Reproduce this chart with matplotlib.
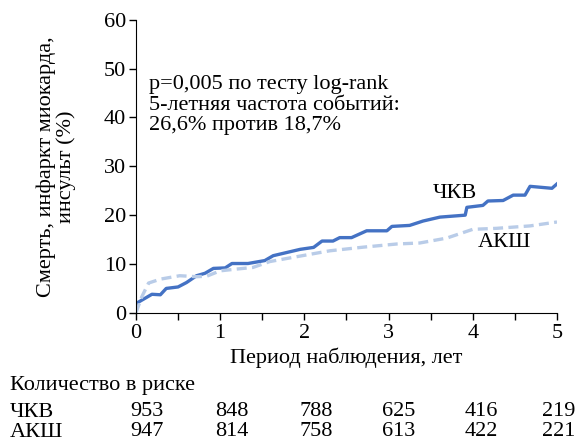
import matplotlib
matplotlib.use("Agg")
import matplotlib.pyplot as plt

plt.rcParams["font.family"] = ["Liberation Serif", "DejaVu Serif"]

# ---- данные ----
pci_t = [0.0, 0.01, 0.09, 0.19, 0.29, 0.36, 0.50, 0.60, 0.72, 0.82, 0.92, 1.06,
         1.14, 1.33, 1.53, 1.63, 1.79, 1.95, 2.11, 2.21, 2.34, 2.42, 2.56, 2.74,
         2.98, 3.04, 3.25, 3.41, 3.61, 3.91, 3.93, 4.12, 4.18, 4.36, 4.48, 4.62,
         4.68, 4.94, 5.0]
pci_y = [0.6, 2.0, 2.8, 3.8, 3.7, 5.0, 5.3, 6.2, 7.6, 8.1, 9.1, 9.2,
         10.1, 10.1, 10.7, 11.7, 12.35, 13.0, 13.4, 14.7, 14.7, 15.4, 15.4, 16.8,
         16.8, 17.7, 17.9, 18.8, 19.6, 20.0, 21.6, 22.0, 22.9, 23.0, 24.1, 24.1,
         25.9, 25.5, 26.4]

cabg_t = [0.0, 0.07, 0.15, 0.29, 0.52, 0.72, 0.84, 1.0, 1.16, 1.39, 1.59, 1.91,
          2.30, 2.70, 3.10, 3.37, 3.69, 4.0, 4.28, 4.68, 5.0]
cabg_y = [0.0, 3.3, 6.1, 6.9, 7.6, 7.4, 7.5, 8.6, 8.9, 9.3, 10.5, 11.5,
          12.7, 13.45, 14.1, 14.3, 15.3, 17.1, 17.3, 17.8, 18.6]

risk_years = [0, 1, 2, 3, 4, 5]
risk_pci = [953, 848, 788, 625, 416, 219]
risk_cabg = [947, 814, 758, 613, 422, 221]

COL_PCI = "#4472C4"
COL_CABG = "#B9CCE8"
FS = 16

fig = plt.figure(figsize=(5.76, 4.40), dpi=100)
ax = fig.add_axes([0.236, 0.289, 0.731, 0.666])

ax.plot(pci_t, pci_y, color=COL_PCI, lw=2.4)
ax.plot(cabg_t, cabg_y, color=COL_CABG, lw=2.4, ls=(0, (3, 1.6)))

ax.set_xlim(0, 5)
ax.set_ylim(0, 60)
ax.set_xticks(range(6))
ax.set_xticks([0.5, 1.5, 2.5, 3.5, 4.5], minor=True)
ax.set_yticks(range(0, 61, 10))
ax.spines["top"].set_visible(False)
ax.spines["right"].set_visible(False)
ax.tick_params(labelsize=FS, length=5, width=1, direction="out", pad=2)
ax.tick_params(axis="x", pad=3)
ax.tick_params(which="minor", length=5, width=1)

ax.set_xlabel("Период наблюдения, лет", fontsize=FS, labelpad=3)
ax.set_ylabel("Смерть, инфаркт миокарда,\nинсульт (%)", fontsize=FS,
              linespacing=1.0, labelpad=20)

ax.text(0.15, 42.5, "p=0,005 по тесту log-rank\n5-летняя частота событий:\n26,6% против 18,7%",
        fontsize=FS, va="center", ha="left", linespacing=1.1)

ax.text(3.79, 24.4, "ЧКВ", fontsize=FS, ha="center", va="center")
ax.text(4.38, 14.5, "АКШ", fontsize=FS, ha="center", va="center")

# ---- таблица риска ----
fig.text(10 / 576, 1 - 385 / 440, "Количество в риске", fontsize=FS, va="center")
fig.text(10 / 576, 1 - 412 / 440, "ЧКВ", fontsize=FS, va="center")
fig.text(10 / 576, 1 - 432 / 440, "АКШ", fontsize=FS, va="center")
offs = [0.13, 0.14, 0.14, 0.12, 0.10, 0.02]
for yr, a, b, o in zip(risk_years, risk_pci, risk_cabg, offs):
    ax.annotate(str(a), xy=(yr + o, 0), xycoords=("data", "axes fraction"),
                xytext=(0, -(412 - 313)), textcoords="offset pixels",
                ha="center", va="center", fontsize=FS, annotation_clip=False)
    ax.annotate(str(b), xy=(yr + o, 0), xycoords=("data", "axes fraction"),
                xytext=(0, -(432 - 313)), textcoords="offset pixels",
                ha="center", va="center", fontsize=FS, annotation_clip=False)

fig.savefig("out.png", dpi=100)
